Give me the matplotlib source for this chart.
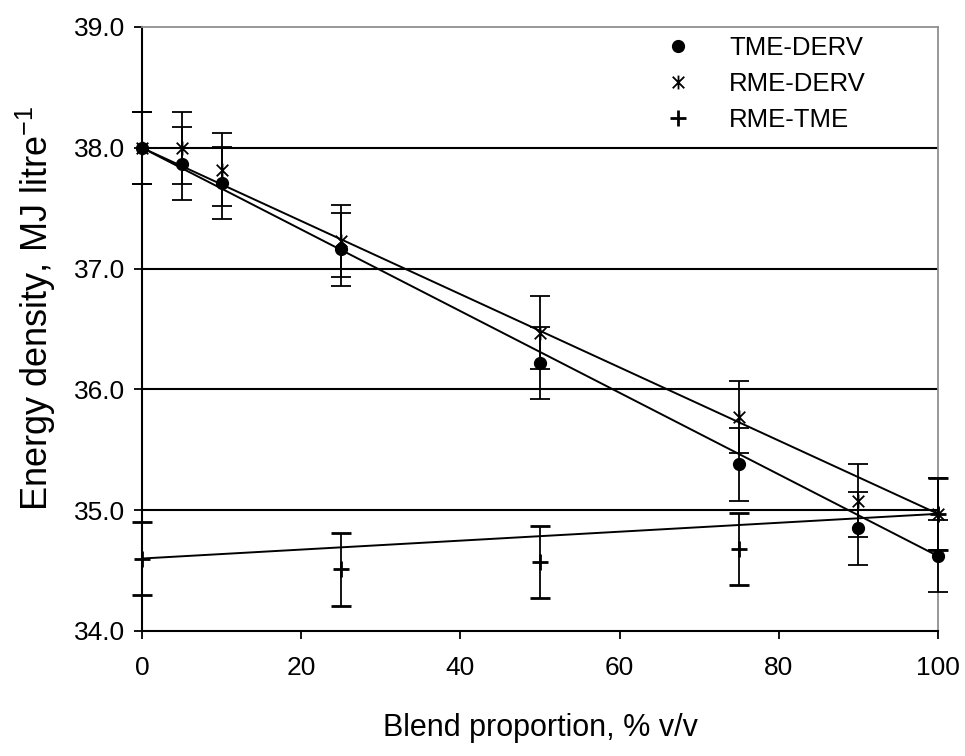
import numpy as np
import matplotlib
matplotlib.use("Agg")
import matplotlib.pyplot as plt
from matplotlib.path import Path

plt.rcParams['font.family'] = ['Liberation Sans', 'DejaVu Sans']
plt.rcParams['mathtext.fontset'] = 'custom'
plt.rcParams['mathtext.rm'] = 'Liberation Sans'
plt.rcParams['mathtext.default'] = 'regular'

# blend proportion, % v/v
x_derv = [0, 5, 10, 25, 50, 75, 90, 100]
x_rt = [0, 25, 50, 75, 100]

# energy density, MJ/litre
tme_derv = [38.0, 37.87, 37.71, 37.16, 36.22, 35.38, 34.85, 34.62]
rme_derv = [38.0, 38.0, 37.82, 37.23, 36.47, 35.77, 35.08, 34.97]
rme_tme = [34.6, 34.51, 34.57, 34.68, 34.97]
err = 0.3

y_ticks = [34.0, 35.0, 36.0, 37.0, 38.0, 39.0]
x_ticks = [0, 20, 40, 60, 80, 100]

# asterisk marker: X with vertical line
star = Path([(-1, -1), (1, 1), (-1, 1), (1, -1), (0, -1.2), (0, 1.2)],
            [Path.MOVETO, Path.LINETO, Path.MOVETO, Path.LINETO, Path.MOVETO, Path.LINETO])

fig = plt.figure(figsize=(9.65, 7.56), dpi=100)
ax = fig.add_axes([142 / 965, 1 - 631 / 756, 796 / 965, 604 / 756])

eb = dict(capsize=7, elinewidth=1.3, capthick=1.3, color='black', ls='none', zorder=3)
series = [
    ax.errorbar(x_derv, tme_derv, yerr=err, marker='o', ms=8.5, label='TME-DERV', **eb),
    ax.errorbar(x_derv, rme_derv, yerr=err, marker=star, ms=10, mew=1.3, mfc='none',
                label='RME-DERV', **eb),
    ax.errorbar(x_rt, rme_tme, yerr=err, marker='+', ms=11, mew=2, label='RME-TME', **eb),
]
for cont in series:
    for art in cont.get_children():
        art.set_clip_on(False)

# linear mixing lines between the pure components
for xs, ys in [(x_derv, tme_derv), (x_derv, rme_derv), (x_rt, rme_tme)]:
    ax.plot([xs[0], xs[-1]], [ys[0], ys[-1]], color='black', lw=1.4, zorder=2)

ax.set_xlim(0, 100)
ax.set_ylim(34, 39)
ax.set_xticks(x_ticks)
ax.set_yticks(y_ticks)
ax.set_yticklabels([f'{v:.1f}' for v in y_ticks])
ax.tick_params(direction='out', length=6, width=1.3, labelsize=19, pad=6)
ax.tick_params(axis='x', pad=12)

ax.yaxis.grid(True, color='black', lw=1.5, zorder=1)
ax.set_axisbelow(True)
for t in (ax.yaxis.get_major_ticks()[0], ax.yaxis.get_major_ticks()[-1]):
    t.gridline.set_visible(False)

for s in ['top', 'right']:
    ax.spines[s].set_color('#909090')
    ax.spines[s].set_linewidth(1.3)
for s in ['left', 'bottom']:
    ax.spines[s].set_color('black')
    ax.spines[s].set_linewidth(1.5)

ax.set_xlabel('Blend proportion, % v/v', fontsize=22, labelpad=24)
ax.set_ylabel('Energy density, MJ litre$^{-1}$', fontsize=26)
ax.yaxis.set_label_coords(-0.106, 0.535)

handles, labels = ax.get_legend_handles_labels()
handles = [h[0] for h in handles]
leg = fig.legend(handles, labels, loc='upper left', bbox_to_anchor=(652 / 965, 1 - 36 / 756),
                 frameon=False, fontsize=18.5, borderpad=0, borderaxespad=0,
                 handlelength=2.0, handletextpad=1.0, labelspacing=0.47, numpoints=1)

fig.savefig('out.png', dpi=100)
